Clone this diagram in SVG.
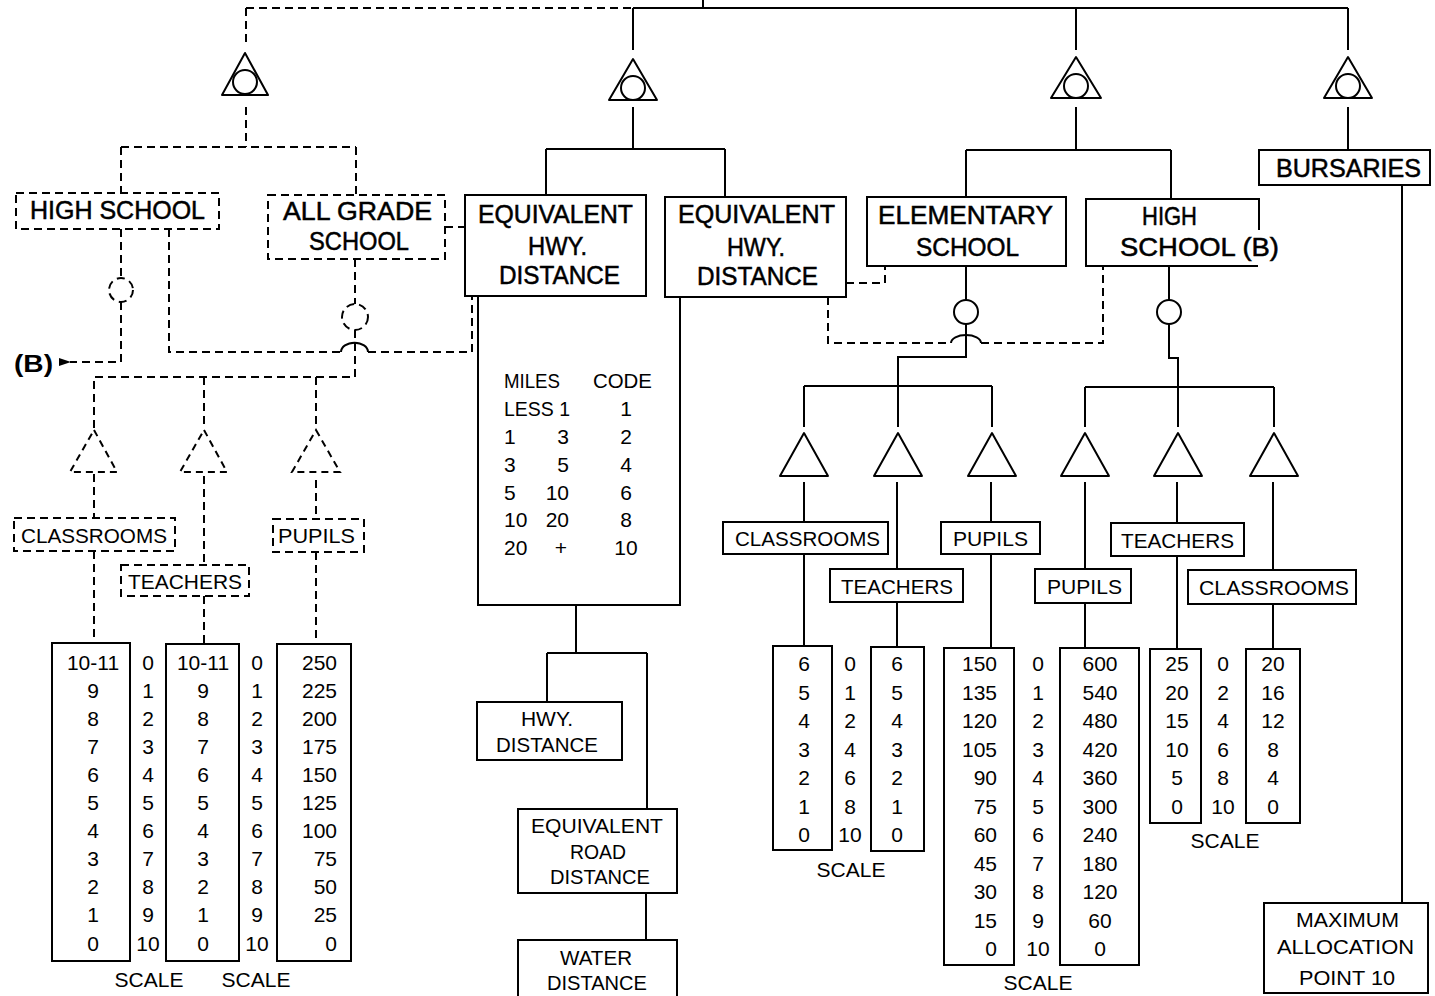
<svg xmlns="http://www.w3.org/2000/svg" width="1435" height="996" viewBox="0 0 1435 996">
<style>
.s{stroke:#000;stroke-width:2;fill:none}
.d{stroke:#000;stroke-width:2;fill:none;stroke-dasharray:8 5}
.bx{fill:#fff;stroke:#000;stroke-width:2}
.dbx{fill:#fff;stroke:#000;stroke-width:2;stroke-dasharray:8 5}
.tri{fill:#fff;stroke:#000;stroke-width:2;stroke-linejoin:round}
.dtri{fill:#fff;stroke:#000;stroke-width:2;stroke-dasharray:7 5}
text{font-family:"Liberation Sans",Arial,sans-serif;fill:#000}
.lg{font-size:25px;stroke:#000;stroke-width:0.5}
.md{font-size:21px}
.nm{font-size:21px}
.c{text-anchor:middle}
.e{text-anchor:end}
</style>
<defs>
<marker id="arr" viewBox="0 0 12 10" refX="1" refY="5" markerWidth="12" markerHeight="10" markerUnits="userSpaceOnUse" orient="auto-start-reverse">
<path d="M0,5 L12,1 L12,9 Z" fill="#000"/>
</marker>
</defs>
<rect width="1435" height="996" fill="#fff"/>

<g id="connectors">
<!-- top -->
<path class="d" d="M246,8 H633"/>
<path class="s" d="M633,8 H1348"/>
<path class="s" d="M703,0 V8"/>
<path class="d" d="M246,8 V45"/>
<path class="s" d="M633,8 V50"/>
<path class="s" d="M1076,8 V50"/>
<path class="s" d="M1348,8 V50"/>
<!-- below gates -->
<path class="d" d="M246,107 V147 M121,147 H356 M121,147 V193 M356,147 V195"/>
<path class="s" d="M633,107 V149 M546,149 H725 M546,149 V195 M725,149 V197"/>
<path class="s" d="M1076,107 V150 M966,150 H1171 M966,150 V197 M1171,150 V199"/>
<path class="s" d="M1348,107 V150"/>
<!-- left dashed network -->
<path class="d" d="M445,227 H465"/>
<path class="d" d="M121,229 V278"/>
<path class="d" d="M121,302 V362 H70" marker-end="url(#arr)"/>
<path class="d" d="M169,229 V352 H341"/>
<path class="s" d="M341,352 A13 9 0 0 1 368,352"/>
<path class="d" d="M368,352 H472 V296"/>
<path class="d" d="M355,259 V304"/>
<path class="d" d="M355,330 V377 H94 V428"/>
<path class="d" d="M204,377 V428 M316,377 V428"/>
<path class="d" d="M94,474 V518 M204,476 V565 M316,480 V519"/>
<path class="d" d="M94,551 V643 M204,596 V644 M316,552 V644"/>
<!-- middle -->
<path class="s" d="M478,296 V605 H680 V297"/>
<path class="s" d="M576,605 V653 M547,653 H647 M547,653 V702 M647,653 V809"/>
<path class="s" d="M646,893 V940"/>
<!-- right dashed -->
<path class="d" d="M846,283 H885 V266"/>
<path class="d" d="M828,297 V343 H951"/>
<path class="s" d="M951,343 A15 8 0 0 1 981,343"/>
<path class="d" d="M981,343 H1103 V266"/>
<!-- elementary branch -->
<path class="s" d="M966,266 V300 M966,324 V357 H898 V427"/>
<path class="s" d="M804,386 H992 M804,386 V427 M992,386 V427"/>
<path class="s" d="M804,482 V522 M804,554 V646"/>
<path class="s" d="M897,482 V569 M897,602 V647"/>
<path class="s" d="M991,482 V522 M991,554 V648"/>
<!-- high school branch -->
<path class="s" d="M1169,266 V300 M1169,324 V358 H1178 V427"/>
<path class="s" d="M1085,387 H1274 M1085,387 V427 M1274,387 V427"/>
<path class="s" d="M1085,482 V569 M1085,603 V648"/>
<path class="s" d="M1177,482 V523 M1177,556 V649"/>
<path class="s" d="M1273,482 V570 M1273,604 V649"/>
<!-- bursaries -->
<path class="s" d="M1402,185 V903"/>
</g>

<!-- top gates -->
<g id="gate-left"><path class="tri" d="M245,53 L268,95 L222,95 Z"/><circle class="s" cx="245" cy="82" r="12"/></g>
<g id="gate-mid"><path class="tri" d="M633,59 L657,100 L609,100 Z"/><circle class="s" cx="633" cy="88" r="12"/></g>
<g id="gate-right"><path class="tri" d="M1076,57 L1101,98 L1051,98 Z"/><circle class="s" cx="1076" cy="86" r="12"/></g>
<g id="gate-bursaries"><path class="tri" d="M1348,57 L1372,98 L1324,98 Z"/><circle class="s" cx="1348" cy="86" r="12"/></g>

<!-- left side dashed nodes -->
<g id="high-school-a"><rect class="dbx" x="16" y="193" width="203" height="36"/><text class="lg" x="30" y="219" textLength="175" lengthAdjust="spacingAndGlyphs">HIGH SCHOOL</text></g>
<g id="all-grade-school"><rect class="dbx" x="268" y="195" width="177" height="64"/><text class="lg" x="283" y="220" textLength="149" lengthAdjust="spacingAndGlyphs">ALL GRADE</text><text class="lg" x="309" y="250" textLength="100" lengthAdjust="spacingAndGlyphs">SCHOOL</text></g>
<g id="or-hs"><circle class="d" cx="121" cy="290" r="12"/></g>
<g id="or-ag"><circle class="d" cx="355" cy="317" r="13"/></g>
<g id="b-ref"><text x="14" y="372" font-size="24" font-weight="bold" textLength="39" lengthAdjust="spacingAndGlyphs">(B)</text></g>
<g id="tri-l1"><path class="dtri" d="M94,430 L117,472 L70,472 Z"/></g>
<g id="tri-l2"><path class="dtri" d="M204,430 L227,472 L180,472 Z"/></g>
<g id="tri-l3"><path class="dtri" d="M316,430 L340,472 L292,472 Z"/></g>
<g id="classrooms-l"><rect class="dbx" x="14" y="518" width="161" height="33"/><text class="md" x="21" y="543" textLength="146" lengthAdjust="spacingAndGlyphs">CLASSROOMS</text></g>
<g id="teachers-l"><rect class="dbx" x="121" y="565" width="128" height="31"/><text class="md" x="128" y="589" textLength="114" lengthAdjust="spacingAndGlyphs">TEACHERS</text></g>
<g id="pupils-l"><rect class="dbx" x="273" y="519" width="91" height="33"/><text class="md" x="278" y="543" textLength="77" lengthAdjust="spacingAndGlyphs">PUPILS</text></g>

<!-- left tables -->
<g id="table-l1"><rect class="bx" x="52" y="643" width="78" height="318"/>
<g class="nm c">
<text x="93" y="670">10-11</text><text x="93" y="698">9</text><text x="93" y="726">8</text><text x="93" y="754">7</text><text x="93" y="782">6</text><text x="93" y="810">5</text><text x="93" y="838">4</text><text x="93" y="866">3</text><text x="93" y="894">2</text><text x="93" y="922">1</text><text x="93" y="951">0</text>
</g></g>
<g id="scale-l1" class="nm c">
<text x="148" y="670">0</text><text x="148" y="698">1</text><text x="148" y="726">2</text><text x="148" y="754">3</text><text x="148" y="782">4</text><text x="148" y="810">5</text><text x="148" y="838">6</text><text x="148" y="866">7</text><text x="148" y="894">8</text><text x="148" y="922">9</text><text x="148" y="951">10</text>
<text x="149" y="987">SCALE</text>
</g>
<g id="table-l2"><rect class="bx" x="166" y="644" width="73" height="317"/>
<g class="nm c">
<text x="203" y="670">10-11</text><text x="203" y="698">9</text><text x="203" y="726">8</text><text x="203" y="754">7</text><text x="203" y="782">6</text><text x="203" y="810">5</text><text x="203" y="838">4</text><text x="203" y="866">3</text><text x="203" y="894">2</text><text x="203" y="922">1</text><text x="203" y="951">0</text>
</g></g>
<g id="scale-l2" class="nm c">
<text x="257" y="670">0</text><text x="257" y="698">1</text><text x="257" y="726">2</text><text x="257" y="754">3</text><text x="257" y="782">4</text><text x="257" y="810">5</text><text x="257" y="838">6</text><text x="257" y="866">7</text><text x="257" y="894">8</text><text x="257" y="922">9</text><text x="257" y="951">10</text>
<text x="256" y="987">SCALE</text>
</g>
<g id="table-l3"><rect class="bx" x="277" y="644" width="74" height="317"/>
<g class="nm e">
<text x="337" y="670">250</text><text x="337" y="698">225</text><text x="337" y="726">200</text><text x="337" y="754">175</text><text x="337" y="782">150</text><text x="337" y="810">125</text><text x="337" y="838">100</text><text x="337" y="866">75</text><text x="337" y="894">50</text><text x="337" y="922">25</text><text x="337" y="951">0</text>
</g></g>

<!-- middle -->
<g id="equiv-hwy-1"><rect class="bx" x="465" y="195" width="181" height="101"/>
<text class="lg" x="478" y="223" textLength="155" lengthAdjust="spacingAndGlyphs">EQUIVALENT</text>
<text class="lg" x="528" y="255" textLength="59" lengthAdjust="spacingAndGlyphs">HWY.</text>
<text class="lg" x="499" y="284" textLength="121" lengthAdjust="spacingAndGlyphs">DISTANCE</text></g>
<g id="equiv-hwy-2"><rect class="bx" x="665" y="197" width="181" height="100"/>
<text class="lg" x="678" y="223" textLength="157" lengthAdjust="spacingAndGlyphs">EQUIVALENT</text>
<text class="lg" x="727" y="256" textLength="58" lengthAdjust="spacingAndGlyphs">HWY.</text>
<text class="lg" x="697" y="285" textLength="121" lengthAdjust="spacingAndGlyphs">DISTANCE</text></g>
<g id="miles-code" class="md">
<text x="504" y="388" textLength="56" lengthAdjust="spacingAndGlyphs">MILES</text>
<text x="593" y="388" textLength="59" lengthAdjust="spacingAndGlyphs">CODE</text>
<text x="504" y="416" textLength="66" lengthAdjust="spacingAndGlyphs">LESS 1</text>
<text x="626" y="416" class="c">1</text>
<text x="504" y="444">1</text><text x="569" y="444" class="e">3</text><text x="626" y="444" class="c">2</text>
<text x="504" y="472">3</text><text x="569" y="472" class="e">5</text><text x="626" y="472" class="c">4</text>
<text x="504" y="500">5</text><text x="569" y="500" class="e">10</text><text x="626" y="500" class="c">6</text>
<text x="504" y="527">10</text><text x="569" y="527" class="e">20</text><text x="626" y="527" class="c">8</text>
<text x="504" y="555">20</text><text x="561" y="555" class="c">+</text><text x="626" y="555" class="c">10</text>
</g>
<g id="hwy-distance"><rect class="bx" x="477" y="702" width="145" height="58"/>
<text class="md c" x="547" y="726">HWY.</text>
<text class="md" x="496" y="752" textLength="102" lengthAdjust="spacingAndGlyphs">DISTANCE</text></g>
<g id="equiv-road"><rect class="bx" x="518" y="809" width="159" height="84"/>
<text class="md" x="531" y="833" textLength="132" lengthAdjust="spacingAndGlyphs">EQUIVALENT</text>
<text class="md" x="570" y="859" textLength="56" lengthAdjust="spacingAndGlyphs">ROAD</text>
<text class="md" x="550" y="884" textLength="100" lengthAdjust="spacingAndGlyphs">DISTANCE</text></g>
<g id="water-distance"><rect class="bx" x="518" y="940" width="159" height="60"/>
<text class="md" x="560" y="965" textLength="72" lengthAdjust="spacingAndGlyphs">WATER</text>
<text class="md" x="547" y="990" textLength="100" lengthAdjust="spacingAndGlyphs">DISTANCE</text></g>

<!-- right -->
<g id="elementary-school"><rect class="bx" x="867" y="197" width="199" height="69"/>
<text class="lg" x="878" y="224" textLength="175" lengthAdjust="spacingAndGlyphs">ELEMENTARY</text>
<text class="lg" x="916" y="256" textLength="103" lengthAdjust="spacingAndGlyphs">SCHOOL</text></g>
<g id="high-school-b"><path class="s" d="M1259,230 V199 H1086 V266 H1258" fill="#fff"/>
<text class="lg" x="1142" y="225" textLength="55" lengthAdjust="spacingAndGlyphs">HIGH</text>
<text class="lg" x="1120" y="256" textLength="159" lengthAdjust="spacingAndGlyphs">SCHOOL  (B)</text></g>
<g id="bursaries"><rect class="bx" x="1259" y="150" width="171" height="35"/>
<text class="lg" x="1276" y="177" textLength="145" lengthAdjust="spacingAndGlyphs">BURSARIES</text></g>
<g id="or-elem"><circle class="s" cx="966" cy="312" r="12"/></g>
<g id="or-hsb"><circle class="s" cx="1169" cy="312" r="12"/></g>
<g id="tri-r1"><path class="tri" d="M804,433 L828,476 L780,476 Z"/></g>
<g id="tri-r2"><path class="tri" d="M898,433 L922,476 L874,476 Z"/></g>
<g id="tri-r3"><path class="tri" d="M992,433 L1016,476 L968,476 Z"/></g>
<g id="tri-r4"><path class="tri" d="M1085,433 L1109,476 L1061,476 Z"/></g>
<g id="tri-r5"><path class="tri" d="M1178,433 L1202,476 L1154,476 Z"/></g>
<g id="tri-r6"><path class="tri" d="M1274,433 L1298,476 L1250,476 Z"/></g>
<g id="classrooms-e"><rect class="bx" x="723" y="522" width="165" height="32"/><text class="md" x="735" y="546" textLength="145" lengthAdjust="spacingAndGlyphs">CLASSROOMS</text></g>
<g id="teachers-e"><rect class="bx" x="830" y="569" width="133" height="33"/><text class="md" x="841" y="594" textLength="112" lengthAdjust="spacingAndGlyphs">TEACHERS</text></g>
<g id="pupils-e"><rect class="bx" x="941" y="522" width="99" height="32"/><text class="md" x="953" y="546" textLength="75" lengthAdjust="spacingAndGlyphs">PUPILS</text></g>
<g id="pupils-h"><rect class="bx" x="1035" y="569" width="96" height="34"/><text class="md" x="1047" y="594" textLength="75" lengthAdjust="spacingAndGlyphs">PUPILS</text></g>
<g id="teachers-h"><rect class="bx" x="1111" y="523" width="133" height="33"/><text class="md" x="1121" y="548" textLength="113" lengthAdjust="spacingAndGlyphs">TEACHERS</text></g>
<g id="classrooms-h"><rect class="bx" x="1188" y="570" width="168" height="34"/><text class="md" x="1199" y="595" textLength="150" lengthAdjust="spacingAndGlyphs">CLASSROOMS</text></g>

<!-- right tables -->
<g id="table-ra"><rect class="bx" x="773" y="646" width="59" height="204"/>
<g class="nm c"><text x="804" y="671">6</text><text x="804" y="700">5</text><text x="804" y="728">4</text><text x="804" y="757">3</text><text x="804" y="785">2</text><text x="804" y="814">1</text><text x="804" y="842">0</text></g></g>
<g id="scale-ra" class="nm c"><text x="850" y="671">0</text><text x="850" y="700">1</text><text x="850" y="728">2</text><text x="850" y="757">4</text><text x="850" y="785">6</text><text x="850" y="814">8</text><text x="850" y="842">10</text>
<text x="851" y="877">SCALE</text></g>
<g id="table-rb"><rect class="bx" x="871" y="647" width="53" height="204"/>
<g class="nm c"><text x="897" y="671">6</text><text x="897" y="700">5</text><text x="897" y="728">4</text><text x="897" y="757">3</text><text x="897" y="785">2</text><text x="897" y="814">1</text><text x="897" y="842">0</text></g></g>
<g id="table-rc"><rect class="bx" x="944" y="648" width="70" height="317"/>
<g class="nm e"><text x="997" y="671">150</text><text x="997" y="700">135</text><text x="997" y="728">120</text><text x="997" y="757">105</text><text x="997" y="785">90</text><text x="997" y="814">75</text><text x="997" y="842">60</text><text x="997" y="871">45</text><text x="997" y="899">30</text><text x="997" y="928">15</text><text x="997" y="956">0</text></g></g>
<g id="scale-rc" class="nm c"><text x="1038" y="671">0</text><text x="1038" y="700">1</text><text x="1038" y="728">2</text><text x="1038" y="757">3</text><text x="1038" y="785">4</text><text x="1038" y="814">5</text><text x="1038" y="842">6</text><text x="1038" y="871">7</text><text x="1038" y="899">8</text><text x="1038" y="928">9</text><text x="1038" y="956">10</text>
<text x="1038" y="990">SCALE</text></g>
<g id="table-rd"><rect class="bx" x="1060" y="648" width="79" height="317"/>
<g class="nm c"><text x="1100" y="671">600</text><text x="1100" y="700">540</text><text x="1100" y="728">480</text><text x="1100" y="757">420</text><text x="1100" y="785">360</text><text x="1100" y="814">300</text><text x="1100" y="842">240</text><text x="1100" y="871">180</text><text x="1100" y="899">120</text><text x="1100" y="928">60</text><text x="1100" y="956">0</text></g></g>
<g id="table-re"><rect class="bx" x="1150" y="649" width="51" height="174"/>
<g class="nm c"><text x="1177" y="671">25</text><text x="1177" y="700">20</text><text x="1177" y="728">15</text><text x="1177" y="757">10</text><text x="1177" y="785">5</text><text x="1177" y="814">0</text></g></g>
<g id="scale-re" class="nm c"><text x="1223" y="671">0</text><text x="1223" y="700">2</text><text x="1223" y="728">4</text><text x="1223" y="757">6</text><text x="1223" y="785">8</text><text x="1223" y="814">10</text>
<text x="1225" y="848">SCALE</text></g>
<g id="table-rf"><rect class="bx" x="1246" y="649" width="54" height="174"/>
<g class="nm c"><text x="1273" y="671">20</text><text x="1273" y="700">16</text><text x="1273" y="728">12</text><text x="1273" y="757">8</text><text x="1273" y="785">4</text><text x="1273" y="814">0</text></g></g>
<g id="max-allocation"><rect class="bx" x="1264" y="903" width="164" height="90"/>
<text class="md" x="1296" y="927" textLength="103" lengthAdjust="spacingAndGlyphs">MAXIMUM</text>
<text class="md" x="1277" y="954" textLength="137" lengthAdjust="spacingAndGlyphs">ALLOCATION</text>
<text class="md" x="1299" y="985" textLength="96" lengthAdjust="spacingAndGlyphs">POINT  10</text></g>
</svg>
